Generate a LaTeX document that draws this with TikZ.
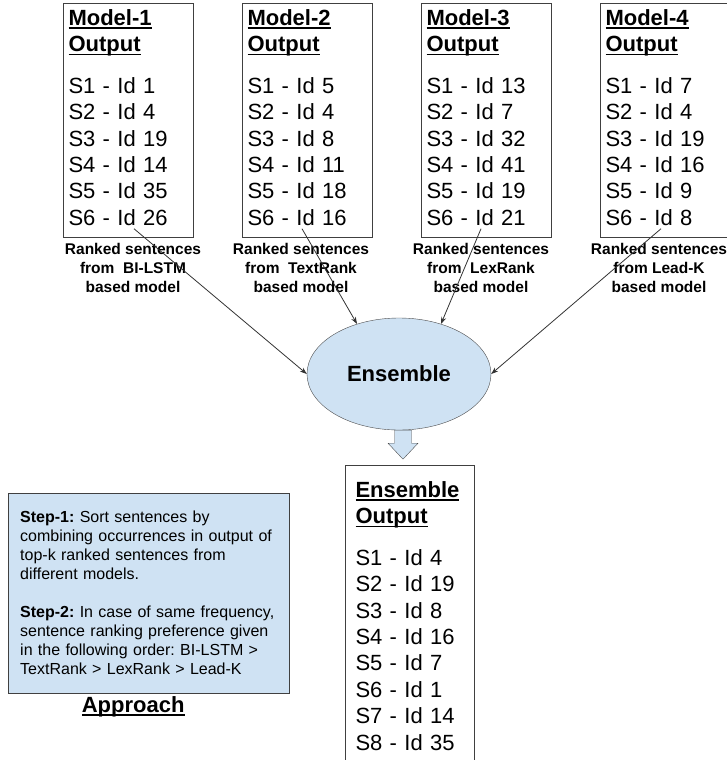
\documentclass[tikz,border=0pt]{standalone}
\usepackage{fontspec}
\setmainfont{Liberation Sans}
\frenchspacing
\usetikzlibrary{positioning,shapes.geometric,arrows.meta}
\definecolor{paleblue}{HTML}{CFE2F3}
\newcommand{\hdr}[1]{\textbf{\setbox0\hbox{#1}\rlap{\rule[-3.5pt]{\wd0}{1.8pt}}\box0}}
\newcommand{\dn}[1]{\rule[-#1]{0pt}{1pt}}
\begin{document}
\begin{tikzpicture}[x=1pt,y=-1pt,
	outbox/.style={draw=black!75,line width=1pt,anchor=north,align=left,text width=119pt,inner xsep=5.5pt,inner ysep=6pt,font=\fontsize{22}{26.4}\selectfont},
	rank/.style={align=center,inner sep=0pt,font=\bfseries\fontsize{15.5}{19.3}\selectfont},
	feed/.style={-{Stealth[length=7pt,width=5pt]},black!80,line width=0.8pt}]
	\useasboundingbox (0,0) rectangle (726,760);
	\node[outbox](m1) at (128,3){\hdr{Model-1}\\\hdr{Output}\\[15pt]S1 - Id 1\\S2 - Id 4\\S3 - Id 19\\S4 - Id 14\\S5 - Id 35\\S6 - Id 26\dn{6pt}};
	\node[outbox,right=48pt of m1](m2){\hdr{Model-2}\\\hdr{Output}\\[15pt]S1 - Id 5\\S2 - Id 4\\S3 - Id 8\\S4 - Id 11\\S5 - Id 18\\S6 - Id 16\dn{6pt}};
	\node[outbox,right=48pt of m2](m3){\hdr{Model-3}\\\hdr{Output}\\[15pt]S1 - Id 13\\S2 - Id 7\\S3 - Id 32\\S4 - Id 41\\S5 - Id 19\\S6 - Id 21\dn{6pt}};
	\node[outbox,right=48pt of m3](m4){\hdr{Model-4}\\\hdr{Output}\\[15pt]S1 - Id 7\\S2 - Id 4\\S3 - Id 19\\S4 - Id 16\\S5 - Id 9\\S6 - Id 8\dn{6pt}};
	
	\node[rank,below=5pt of m1,xshift=5pt](r1){Ranked sentences\\from~ BI-LSTM\\based model};
	\node[rank,below=5pt of m2,xshift=-6pt](r2){Ranked sentences\\from~ TextRank\\based model};
	\node[rank,below=5pt of m3,xshift=-5pt](r3){Ranked sentences\\from~ LexRank\\based model};
	\node[rank,below=5pt of m4,xshift=-6pt](r4){Ranked sentences\\from Lead-K\\based model};
	
	\node[ellipse,draw=black!70,fill=paleblue,minimum width=184pt,minimum height=112pt,inner sep=0pt,font=\bfseries\fontsize{22}{26}\selectfont](ens) at (399,374){Ensemble};
	\draw[feed]([xshift=6pt,yshift=9pt]m1.south)--(ens.west);
	\draw[feed]([xshift=-5pt,yshift=9pt]m2.south)--(ens.130);
	\draw[feed]([xshift=-5pt,yshift=9pt]m3.south)--(ens.50);
	\draw[feed]([xshift=-4pt,yshift=9pt]m4.south)--(ens.east);
	\draw[draw=black!70,fill=paleblue]([xshift=-4.5pt]ens.south)--++(0,13)--++(-6.5,0)--++(15,16)--++(15,-16)--++(-6.5,0)--++(0,-13)--cycle;
	
	\node[outbox,text width=108pt,inner xsep=10.5pt,inner ysep=16pt](eo) at (409.5,465){\hdr{Ensemble}\\\hdr{Output}\\[15pt]S1 - Id 4\\S2 - Id 19\\S3 - Id 8\\S4 - Id 16\\S5 - Id 7\\S6 - Id 1\\S7 - Id 14\\S8 - Id 35\dn{20pt}};
	
	\node[draw=black!75,fill=paleblue,anchor=north west,align=left,text width=257pt,inner xsep=12pt,inner ysep=18pt,font=\fontsize{16}{19}\selectfont](appr) at (8,493){\textbf{Step-1:} Sort sentences by\\combining occurrences in output of\\top-k ranked sentences from\\different models.\\[19pt]\textbf{Step-2:} In case of same frequency,\\sentence ranking preference given\\in the following order: BI-LSTM >\\TextRank > LexRank > Lead-K};
	\node[below=3pt of appr,xshift=-15.5pt,inner sep=0pt,font=\fontsize{22}{26}\selectfont](apprlbl){\hdr{Approach}};
	
\end{tikzpicture}
\end{document}
